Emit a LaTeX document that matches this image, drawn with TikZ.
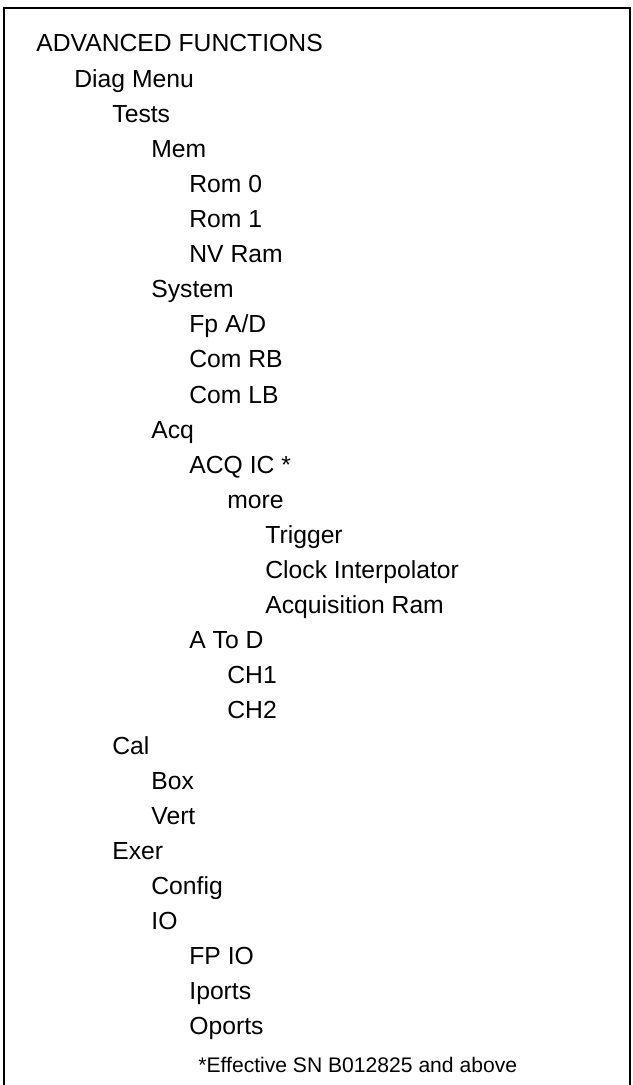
\documentclass[tikz,border=0pt]{standalone}
\usepackage{fontspec}
\setmainfont{Liberation Sans}
\usepackage{tikz}
\usetikzlibrary{positioning}

\begin{document}
\begin{tikzpicture}
  [
    x=0.5pt, y=-0.5pt,
    item/.style={anchor=base west, inner sep=0pt,
      font=\fontsize{12.35}{14}\selectfont},
    note/.style={anchor=base west, inner sep=0pt,
      font=\fontsize{10.55}{12}\selectfont},
    frame/.style={draw=black, line width=1pt}
  ]
  \useasboundingbox (0,0) rectangle (632,1085);

  % open frame, no bottom edge
  \draw [frame] (4,1085) -- (4,8.5) -- (630,8.5) -- (630,1085);

  \node (m0)  at ( 36,  52.0) [item] {ADVANCED FUNCTIONS};
  \node (m1)  at ( 74,  87.1) [item] {Diag Menu};
  \node (m2)  at (112, 122.2) [item] {Tests};
  \node (m3)  at (151, 157.3) [item] {Mem};
  \node (m4)  at (189, 192.4) [item] {Rom 0};
  \node (m5)  at (189, 227.5) [item] {Rom 1};
  \node (m6)  at (189, 262.6) [item] {NV Ram};
  \node (m7)  at (151, 297.7) [item] {System};
  \node (m8)  at (189, 332.8) [item] {Fp A/D};
  \node (m9)  at (189, 367.9) [item] {Com RB};
  \node (m10) at (189, 403.0) [item] {Com LB};
  \node (m11) at (151, 438.1) [item] {Acq};
  \node (m12) at (189, 473.2) [item] {ACQ IC *};
  \node (m13) at (227, 508.3) [item] {more};
  \node (m14) at (265, 543.4) [item] {Trigger};
  \node (m15) at (265, 578.5) [item] {Clock Interpolator};
  \node (m16) at (265, 613.6) [item] {Acquisition Ram};
  \node (m17) at (189, 648.7) [item] {A To D};
  \node (m18) at (227, 683.8) [item] {CH1};
  \node (m19) at (227, 718.9) [item] {CH2};
  \node (m20) at (112, 754.0) [item] {Cal};
  \node (m21) at (151, 789.1) [item] {Box};
  \node (m22) at (151, 824.2) [item] {Vert};
  \node (m23) at (112, 859.3) [item] {Exer};
  \node (m24) at (151, 894.4) [item] {Config};
  \node (m25) at (151, 929.5) [item] {IO};
  \node (m26) at (189, 964.6) [item] {FP IO};
  \node (m27) at (189, 999.7) [item] {Iports};
  \node (m28) at (189,1034.8) [item] {Oports};

  \node (fn)  at (198,1072.0) [note] {*Effective SN B012825 and above};
\end{tikzpicture}
\end{document}
